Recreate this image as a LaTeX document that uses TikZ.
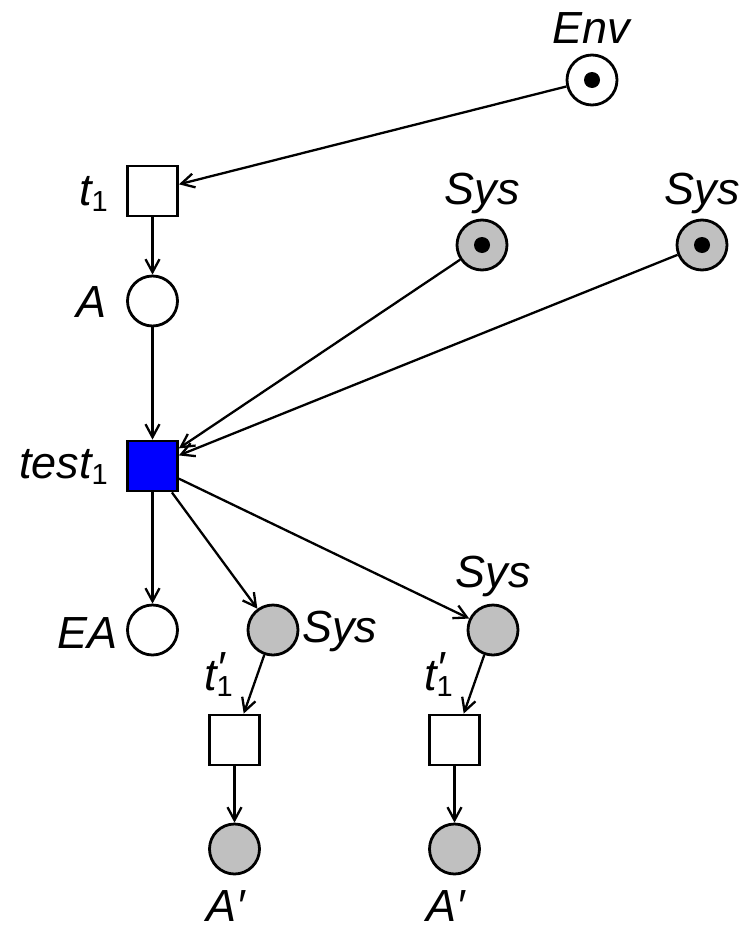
\documentclass[tikz,border=0pt]{standalone}
\usepackage{fontspec}
\setmainfont{Liberation Sans}
\usetikzlibrary{arrows.meta}
\definecolor{placegray}{RGB}{192,192,192}
\definecolor{testblue}{RGB}{0,0,255}
% upright subscript digit, lowered below the baseline
\newcommand{\lowsub}[1]{\raisebox{-6pt}{\fontsize{29}{30}\selectfont\upshape #1}}
\newcommand{\tprime}{t\rlap{\raisebox{7pt}{′}}\lowsub{1}}
\begin{document}
\begin{tikzpicture}[x=1pt,y=-1pt,
  place/.style={circle,draw,line width=2.8pt,minimum size=50pt,inner sep=0pt},
  sysplace/.style={place,fill=placegray},
  trans/.style={rectangle,draw,line width=2.8pt,minimum size=50pt,inner sep=0pt},
  arc/.style={line width=2.3pt,-{Straight Barb[length=13pt,width=14pt,line width=2.3pt]}},
  lbl/.style={inner sep=0pt,font=\fontsize{45}{50}\selectfont\itshape}]
\useasboundingbox (0,0) rectangle (747,926);

% places and transitions
\node[place]    (env)  at (592,80)  {};
\node[trans]    (t1)   at (152.5,191) {};
\node[place]    (a)    at (152.5,301) {};
\node[sysplace] (sysa) at (482,245) {};
\node[sysplace] (sysb) at (702,245) {};
\node[trans,fill=testblue] (test) at (152.5,466) {};
\node[place]    (ea)   at (152.5,630) {};
\node[sysplace] (sysc) at (273,630) {};
\node[sysplace] (sysd) at (493,630) {};
\node[trans]    (tpa)  at (234.5,740) {};
\node[trans]    (tpb)  at (454.5,740) {};
\node[sysplace] (apa)  at (234.5,849) {};
\node[sysplace] (apb)  at (454.5,849) {};

% tokens
\foreach \p in {env,sysa,sysb} \fill (\p) circle (8pt);

% arcs
\draw[arc] (env) -- (t1);
\draw[arc] (t1) -- (a);
\draw[arc] (a) -- (test);
\draw[arc] (sysa) -- (test);
\draw[arc] (sysb) -- (test);
\draw[arc] (test) -- (ea);
\draw[arc] (test) -- (sysc);
\draw[arc] (test) -- (sysd);
\draw[arc] (sysc) -- (tpa);
\draw[arc] (sysd) -- (tpb);
\draw[arc] (tpa) -- (apa);
\draw[arc] (tpb) -- (apb);

% labels
\node[lbl,anchor=base]      (lenv)  at (591,43)  {Env};
\node[lbl,anchor=base]      (lsysa) at (482,204) {Sys};
\node[lbl,anchor=base]      (lsysb) at (702,204) {Sys};
\node[lbl,anchor=base east] (lt1)   at (108,205) {t\lowsub{1}};
\node[lbl,anchor=base east] (la)    at (107,317) {A};
\node[lbl,anchor=base east] (ltest) at (108,478) {test\lowsub{1}};
\node[lbl,anchor=base east] (lea)   at (118,648) {EA};
\node[lbl,anchor=base west] (lsysc) at (302,642) {Sys};
\node[lbl,anchor=base]      (lsysd) at (493,587) {Sys};
\node[lbl,anchor=base east] (ltpa)  at (233,690) {\tprime};
\node[lbl,anchor=base east] (ltpb)  at (453,690) {\tprime};
\node[lbl,anchor=base]      (lapa)  at (226,921) {A′};
\node[lbl,anchor=base]      (lapb)  at (446,921) {A′};
\end{tikzpicture}
\end{document}
